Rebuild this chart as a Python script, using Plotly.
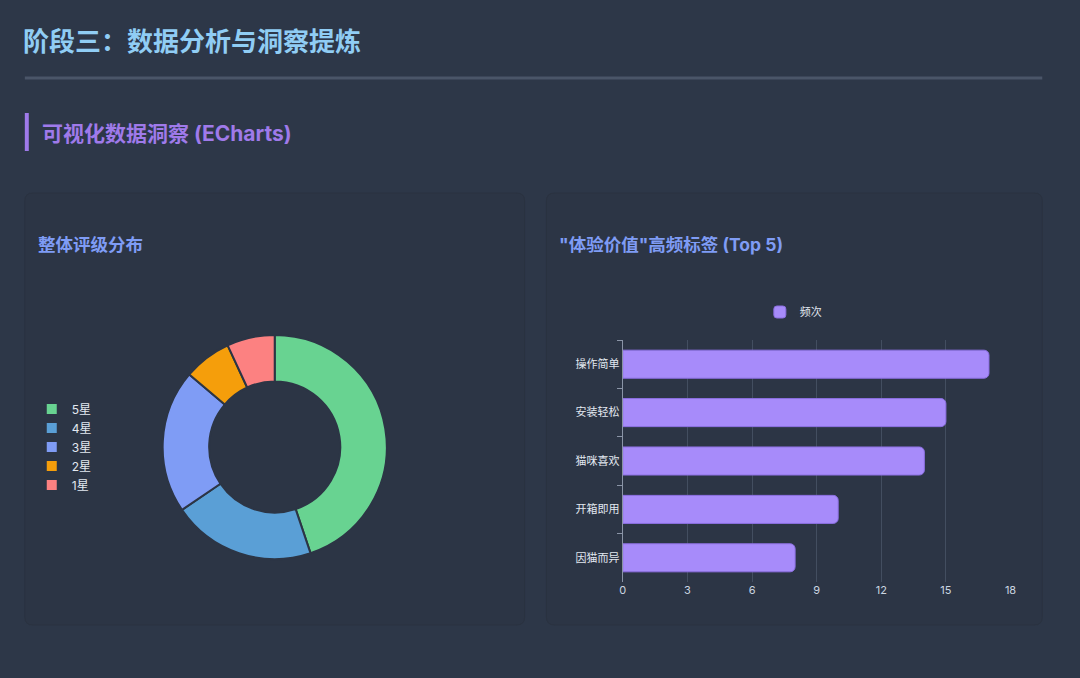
import plotly.graph_objects as go

W, H = 1080, 678

# ---- data ----
rating_labels = ["5星", "4星", "3星", "2星", "1星"]
rating_values = [13, 6, 6, 2, 2]
rating_colors = ["#68d391", "#5a9fd6", "#7f9cf5", "#f59e0b", "#fc8181"]

tag_labels = ["操作简单", "安装轻松", "猫咪喜欢", "开箱即用", "因猫而异"]
tag_values = [17, 15, 14, 10, 8]
x_ticks = [0, 3, 6, 9, 12, 15, 18]

BG = "#2d3748"
CARD = "#2c3545"
FONT = "Inter, Noto Sans CJK SC, sans-serif"


def px_x(x):
    return x / W


def px_y(y):
    return 1 - y / H


def rounded_rect(x0, y0, x1, y1, r):
    X0, X1 = px_x(x0), px_x(x1)
    Y0, Y1 = px_y(y0), px_y(y1)
    rx, ry = r / W, r / H
    return (f"M{X0+rx},{Y0} L{X1-rx},{Y0} Q{X1},{Y0} {X1},{Y0-ry} "
            f"L{X1},{Y1+ry} Q{X1},{Y1} {X1-rx},{Y1} L{X0+rx},{Y1} "
            f"Q{X0},{Y1} {X0},{Y1+ry} L{X0},{Y0-ry} Q{X0},{Y0} {X0+rx},{Y0} Z")


fig = go.Figure()

fig.add_trace(go.Pie(
    labels=rating_labels,
    values=rating_values,
    marker=dict(colors=rating_colors, line=dict(color=CARD, width=2)),
    hole=0.585,
    sort=False,
    direction="clockwise",
    rotation=0,
    textinfo="none",
    domain=dict(x=[px_x(161), px_x(387)], y=[px_y(560), px_y(334)]),
    legend="legend",
    showlegend=True,
))

fig.add_trace(go.Bar(
    x=tag_values,
    y=tag_labels,
    orientation="h",
    name="频次",
    marker=dict(color="#a78bfa", line=dict(color="#8b6fe0", width=1), cornerradius=5),
    width=0.58,
    legend="legend2",
    showlegend=True,
))

fig.update_layout(
    width=W, height=H,
    margin=dict(l=0, r=0, t=0, b=0),
    paper_bgcolor=BG,
    plot_bgcolor="rgba(0,0,0,0)",
    font=dict(family=FONT, color="#e2e8f0", size=12),
    xaxis=dict(
        domain=[px_x(625), px_x(1016)],
        range=[0, 18],
        tickvals=x_ticks,
        showgrid=True, gridcolor="#434e60", gridwidth=1,
        zeroline=False, showline=False,
        tickfont=dict(size=11, color="#cbd5e0"),
        ticks="", fixedrange=True,
    ),
    yaxis=dict(
        domain=[px_y(582), px_y(340)],
        categoryorder="array", categoryarray=tag_labels,
        autorange="reversed",
        showgrid=False, zeroline=False,
        showline=True, linecolor="#8a94a6", linewidth=1,
        ticks="outside", tickson="boundaries", ticklen=5, tickcolor="#8a94a6",
        tickfont=dict(size=11, color="#e2e8f0"),
        fixedrange=True,
    ),
    legend=dict(
        x=px_x(29), y=px_y(447), xanchor="left", yanchor="middle",
        bgcolor="rgba(0,0,0,0)", font=dict(size=12, color="#e2e8f0"),
        itemwidth=30, tracegroupgap=0,
    ),
    legend2=dict(
        x=px_x(797), y=px_y(312), xanchor="center", yanchor="middle",
        orientation="h", bgcolor="rgba(0,0,0,0)",
        font=dict(size=11, color="#e2e8f0"),
    ),
    bargap=0.42,
    showlegend=True,
)

shapes = [
    dict(type="line", xref="paper", yref="paper",
         x0=px_x(22), x1=px_x(1048), y0=px_y(78), y1=px_y(78),
         line=dict(color="#4a5568", width=3), layer="below"),
    dict(type="rect", xref="paper", yref="paper",
         x0=px_x(22), x1=px_x(26), y0=px_y(151), y1=px_y(113),
         fillcolor="#9f7aea", line=dict(width=0), layer="below"),
    dict(type="path", xref="paper", yref="paper",
         path=rounded_rect(22, 193, 526, 625, 8),
         fillcolor=CARD, line=dict(color="#2a3240", width=1), layer="below"),
    dict(type="path", xref="paper", yref="paper",
         path=rounded_rect(548, 193, 1048, 625, 8),
         fillcolor=CARD, line=dict(color="#2a3240", width=1), layer="below"),
]
fig.update_layout(shapes=shapes)

annotations = [
    dict(text="<b>阶段三：数据分析与洞察提炼</b>", x=px_x(18), y=px_y(42),
         xanchor="left", yanchor="middle", font=dict(size=26, color="#90cdf4")),
    dict(text="<b>可视化数据洞察 (ECharts)</b>", x=px_x(37), y=px_y(133),
         xanchor="left", yanchor="middle", font=dict(size=21, color="#9f7aea")),
    dict(text="<b>整体评级分布</b>", x=px_x(33), y=px_y(245),
         xanchor="left", yanchor="middle", font=dict(size=17.5, color="#7f9cf5")),
    dict(text='<b>"体验价值"高频标签 (Top 5)</b>', x=px_x(559), y=px_y(245),
         xanchor="left", yanchor="middle", font=dict(size=17.5, color="#7f9cf5")),
]
for a in annotations:
    a.update(xref="paper", yref="paper", showarrow=False)
fig.update_layout(annotations=annotations)

post = """
document.documentElement.style.margin='0';
document.body.style.margin='0';
document.documentElement.style.overflow='hidden';
document.body.style.overflow='hidden';
"""

fig.write_html("out.html", post_script=post, config={"displayModeBar": False})
